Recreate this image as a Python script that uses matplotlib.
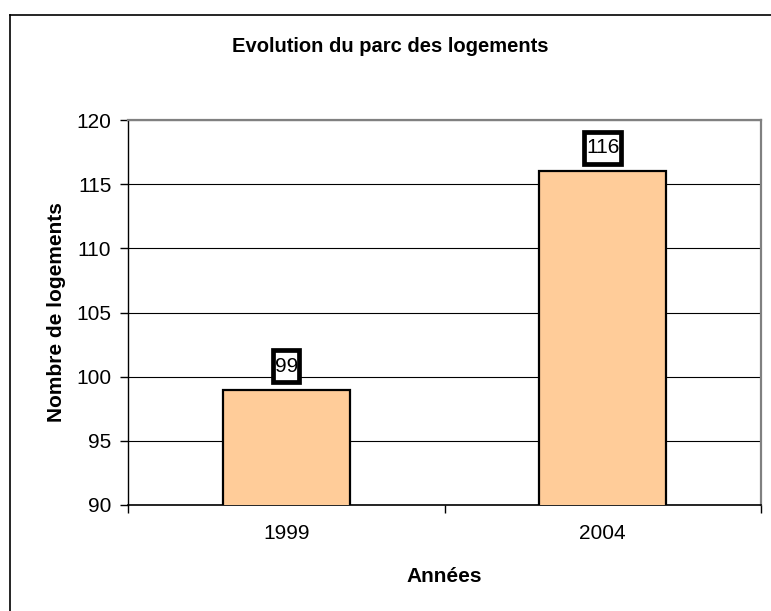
import matplotlib
matplotlib.use("Agg")
import matplotlib.pyplot as plt
from matplotlib.lines import Line2D
from matplotlib.patches import Rectangle
from matplotlib.transforms import ScaledTranslation

categories = ["1999", "2004"]
values = [99, 116]
yticks = [90, 95, 100, 105, 110, 115, 120]

plt.rcParams['font.family'] = ['Liberation Sans', 'DejaVu Sans']

W, H = 771, 611
DPI = 100
fig = plt.figure(figsize=(W / DPI, H / DPI), dpi=DPI)
fig.patch.set_facecolor('white')

# outer chart frame (left and top visible)
fig.add_artist(Line2D([10 / W, 10 / W], [0, 1 - 15 / H], color='black', lw=1.2, transform=fig.transFigure))
fig.add_artist(Line2D([10 / W, 1], [1 - 15 / H, 1 - 15 / H], color='black', lw=1.2, transform=fig.transFigure))

left, right, top, bottom = 128, 761, 120, 505
ax = fig.add_axes([left / W, 1 - bottom / H, (right - left) / W, (bottom - top) / H])

FS = 15
x = list(range(len(categories)))
ax.bar(x, values, width=0.4, color='#FFCC99', edgecolor='black', linewidth=1.6, zorder=3)

ax.set_xlim(-0.5, len(categories) - 0.5)
ax.set_ylim(yticks[0], yticks[-1])
ax.set_yticks(yticks)
ax.set_yticklabels([str(v) for v in yticks], fontsize=FS)
ax.set_xticks(x)
ax.set_xticklabels(categories, fontsize=FS)
ax.tick_params(axis='x', length=0, pad=14)
ax.set_xticks([-0.5, 0.5, 1.5], minor=True)
ax.tick_params(axis='x', which='minor', length=6, width=1, color='black')
ax.tick_params(axis='y', length=6, width=1, color='black', pad=6)

ax.grid(axis='y', color='black', linewidth=0.8, zorder=0)
ax.set_axisbelow(True)

for s in ['top', 'right']:
    ax.spines[s].set_color('#808080')
    ax.spines[s].set_linewidth(1.6)
ax.spines['left'].set_color('black')
ax.spines['bottom'].set_color('black')
ax.spines['left'].set_linewidth(1)
ax.spines['bottom'].set_linewidth(1.2)

em_px = FS * DPI / 72.0
for xi, v in zip(x, values):
    label = str(v)
    off_px = 23.5
    ax.annotate(label, (xi, v), xytext=(0, off_px * 72 / DPI), textcoords='offset points',
                ha='center', va='center', fontsize=FS, zorder=6)
    bw = len(label) * 0.556 * em_px + 2.6
    bh = 32.5
    tr = fig.dpi_scale_trans + ScaledTranslation(xi, v, ax.transData)
    rect = Rectangle(((-bw / 2) / DPI, (off_px - bh / 2) / DPI), bw / DPI, bh / DPI,
                     transform=tr, facecolor='white', edgecolor='black', linewidth=3.4,
                     zorder=5, clip_on=False)
    ax.add_patch(rect)

ax.set_ylabel('Nombre de logements', fontsize=FS, fontweight='bold', labelpad=7)
ax.set_xlabel('Années', fontsize=FS, fontweight='bold', labelpad=17)
fig.text(390 / W, 1 - 46 / H, 'Evolution du parc des logements', ha='center', va='center',
         fontsize=14.5, fontweight='bold')

fig.savefig('out.png', dpi=DPI, facecolor='white')
